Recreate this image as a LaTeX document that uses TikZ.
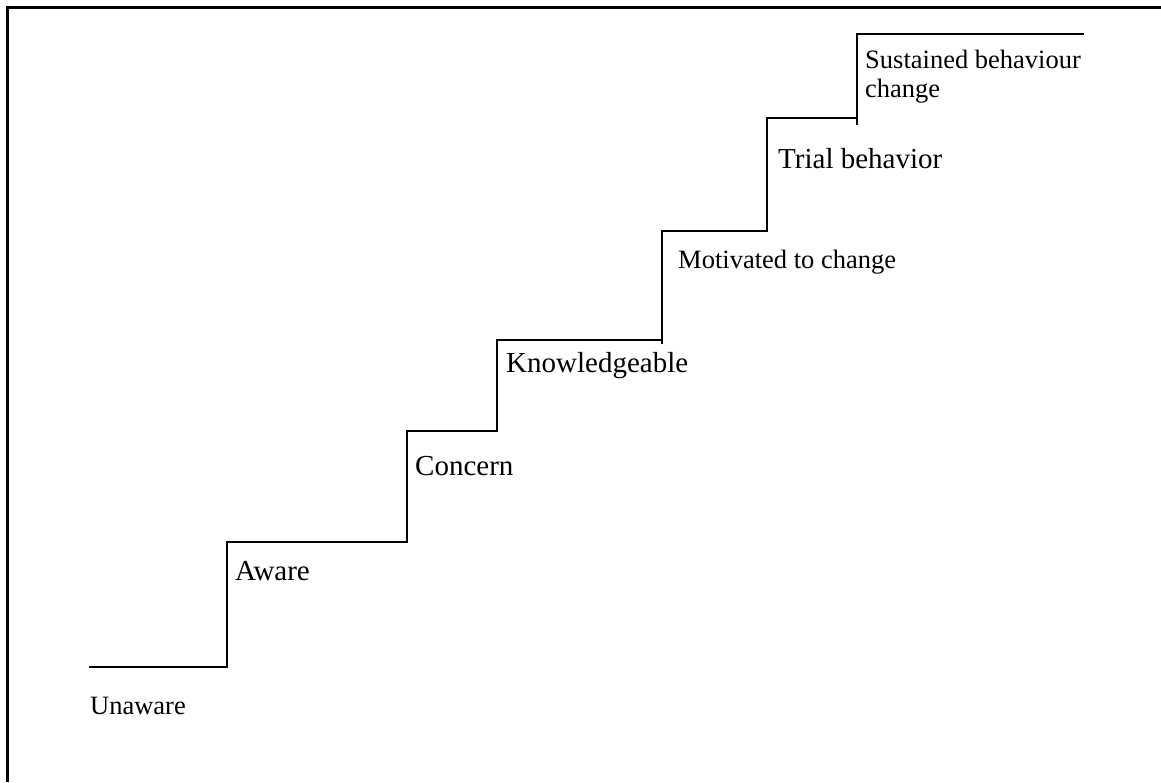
\documentclass[tikz,border=0pt]{standalone}
\usepackage{fontspec}
\setmainfont{Liberation Serif}
\usetikzlibrary{positioning}

\tikzset{
	marche/.style={line width=1.5pt, line cap=rect},
	cadre/.style={line width=2.3pt},
	grand/.style={anchor=base west, inner sep=0pt, font=\fontsize{29}{33}\selectfont},
	petit/.style={anchor=base west, inner sep=0pt, align=left, font=\fontsize{26.5}{29}\selectfont},
}

\begin{document}
\begin{tikzpicture}[x=1pt, y=-1pt]
	\useasboundingbox (0,0) rectangle (1161,782);
	% Cadre (haut et gauche)
	\coordinate (hd) at (1161,7.5);
	\coordinate (hg) at (7.5,7.5);
	\coordinate (bg) at (7.5,782);
	\draw[cadre] (hd) -- (hg) -- (bg);
	% Coins de l'escalier
	\coordinate (p0) at (90,667);
	\coordinate (p1) at (227,667);
	\coordinate (p2) at (227,542);
	\coordinate (p3) at (407,542);
	\coordinate (p4) at (407,431);
	\coordinate (p5) at (497,431);
	\coordinate (p6) at (497,340);
	\coordinate (p7) at (662,340);
	\coordinate (p8) at (662,231);
	\coordinate (p9) at (767,231);
	\coordinate (p10) at (767,118);
	\coordinate (p11) at (857,118);
	\coordinate (p12) at (857,34);
	\coordinate (p13) at (1083,34);
	\coordinate (q7) at (662,343);
	\coordinate (q11) at (857,124);
	\draw[marche] (p0) -- (p1) -- (p2) -- (p3) -- (p4) -- (p5) -- (p6) -- (p7)
		-- (p8) -- (p9) -- (p10) -- (p11) -- (p12) -- (p13);
	\draw[marche] (p7) -- (q7);
	\draw[marche] (p11) -- (q11);
	% Etapes
	\node[petit] (unaware) at (90,714) {Unaware};
	\node[grand] (aware) at (235,580) {Aware};
	\node[grand] (concern) at (415,475) {Concern};
	\node[grand] (knowledge) at (506,372) {Knowledgeable};
	\node[petit] (motivated) at (678,268) {Motivated to change};
	\node[grand] (trial) at (778,168) {Trial behavior};
	\node[petit] (sustained) at (865,97) {Sustained behaviour\\change};
\end{tikzpicture}
\end{document}
